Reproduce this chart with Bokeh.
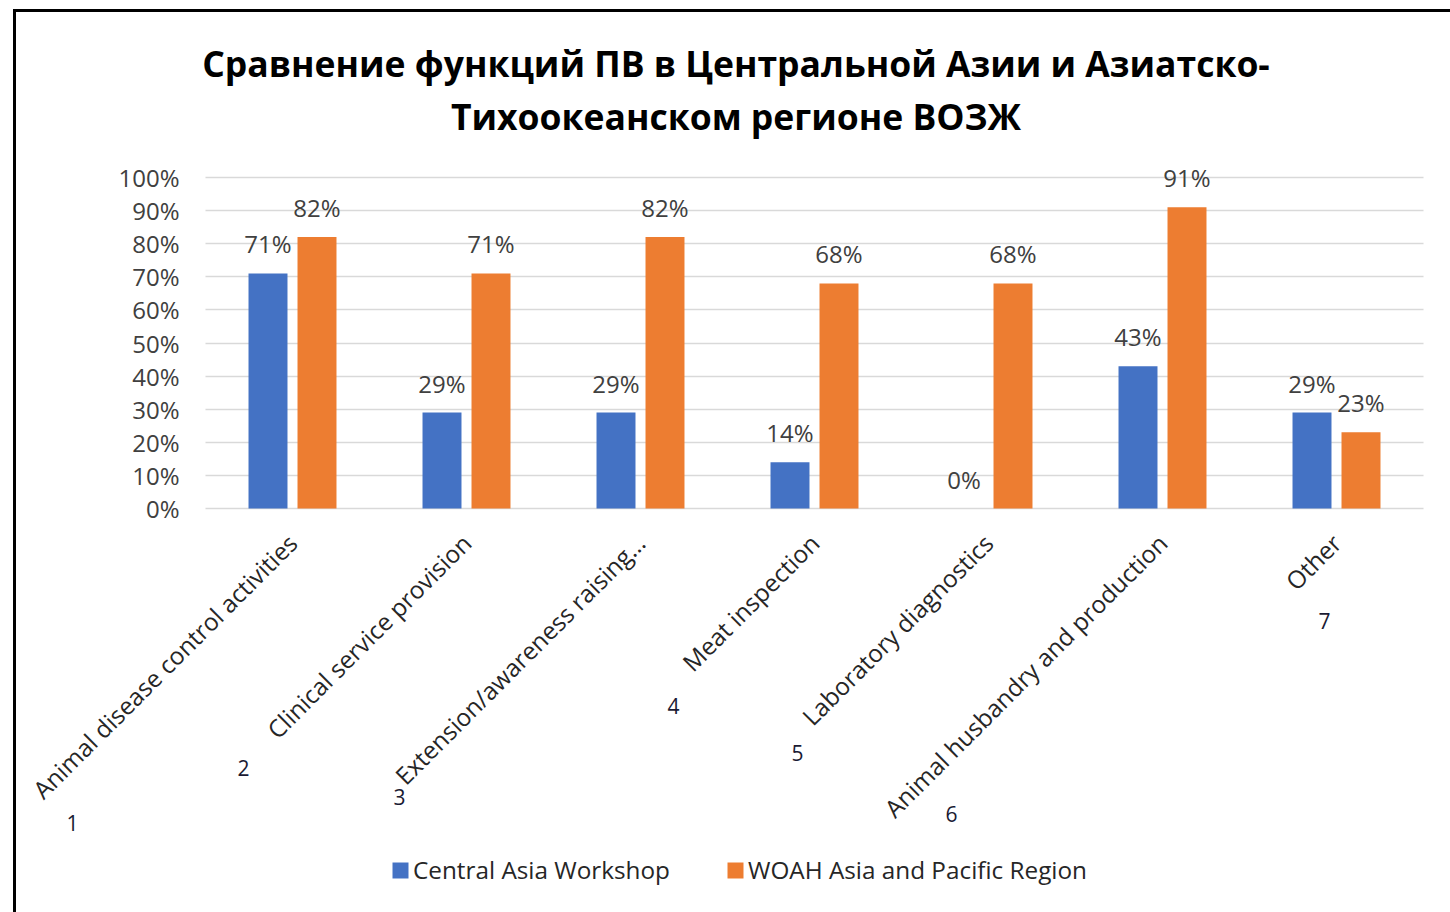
from bokeh.plotting import figure
from bokeh.models import (ColumnDataSource, Range1d, LabelSet, Label, Legend, LegendItem,
                          FixedTicker, NumeralTickFormatter)
from bokeh.transform import dodge
from bokeh.core.properties import value
from bokeh.embed import file_html
from bokeh.resources import INLINE
import math

# ---------------- data ----------------
categories = [
    "Animal disease control activities",
    "Clinical service provision",
    "Extension/awareness raising…",
    "Meat inspection",
    "Laboratory diagnostics",
    "Animal husbandry and production",
    "Other",
]
central_asia = [0.71, 0.29, 0.29, 0.14, 0.00, 0.43, 0.29]
woah_asia_pacific = [0.82, 0.71, 0.82, 0.68, 0.68, 0.91, 0.23]
series_names = ["Central Asia Workshop", "WOAH Asia and Pacific Region"]
category_numbers = ["1", "2", "3", "4", "5", "6", "7"]
y_ticks = [0.0, 0.1, 0.2, 0.3, 0.4, 0.5, 0.6, 0.7, 0.8, 0.9, 1.0]
title_lines = [
    "Сравнение функций ПВ в Центральной Азии и Азиатско-",
    "Тихоокеанском регионе ВОЗЖ",
]

# ---------------- layout / styling ----------------
W_PX, H_PX = 1450, 912
FONT = "Open Sans"
BLUE = "#4472C4"
ORANGE = "#ED7D31"
TEXT = "#404040"
CAT_PX = 174.0          # pixels per category
FIRST_CAT_PX = 292.0    # pixel x of first category centre
ZERO_PX = 508.0         # pixel y of 0 %
UNIT_PX = 331.0         # pixels per 100 %
# pixel positions (from top-left) of the stray numbers under the labels
number_px = [(72, 822), (243, 767), (399, 796), (673, 705),
             (797, 752), (951, 813), (1324, 620)]

idx = list(range(len(categories)))
src = ColumnDataSource(dict(
    idx=idx,
    cat=categories,
    ca=central_asia,
    wo=woah_asia_pacific,
    ca_lbl=[f"{round(v * 100)}%" for v in central_asia],
    wo_lbl=[f"{round(v * 100)}%" for v in woah_asia_pacific],
))

x_range = Range1d(-FIRST_CAT_PX / CAT_PX, (W_PX - FIRST_CAT_PX) / CAT_PX)
y_range = Range1d(-(H_PX - ZERO_PX) / UNIT_PX, ZERO_PX / UNIT_PX)

p = figure(x_range=x_range, y_range=y_range, width=W_PX, height=H_PX, title=None,
           output_backend="svg", toolbar_location=None, min_border=0)
p.border_fill_color = None
p.background_fill_color = None
p.outline_line_color = None
p.styles = {
    "background": "linear-gradient(#000,#000) 13px 9px / 3px calc(100% - 9px) no-repeat, "
                  "linear-gradient(#000,#000) 13px 9px / calc(100% - 13px) 3px no-repeat, white"
}

OFF = 0.1408
BW = 0.224
r1 = p.vbar(x=dodge("idx", -OFF), top="ca", width=BW, source=src,
            fill_color=BLUE, line_color=None)
r2 = p.vbar(x=dodge("idx", OFF), top="wo", width=BW, source=src,
            fill_color=ORANGE, line_color=None)

for off, col, lbl in [(-OFF, "ca", "ca_lbl"), (OFF, "wo", "wo_lbl")]:
    p.add_layout(LabelSet(x=dodge("idx", off), y=col, text=lbl, source=src,
                          text_align="center", text_baseline="alphabetic", y_offset=20,
                          text_font=value(FONT), text_font_size="24px", text_color=TEXT))

# ---- axes (fixed inside the frame) ----
left_edge, right_edge = -0.5, len(categories) - 0.5
p.xgrid.grid_line_color = None
p.ygrid.grid_line_color = "#D9D9D9"
p.ygrid.grid_line_width = 1.5
p.ygrid.cross_bounds = (left_edge, right_edge)

p.yaxis.fixed_location = left_edge
p.yaxis.bounds = (0, 1)
p.yaxis.ticker = FixedTicker(ticks=y_ticks)
p.yaxis.formatter = NumeralTickFormatter(format="0%")
p.yaxis.axis_line_color = None
p.yaxis.major_tick_line_color = None
p.yaxis.minor_tick_line_color = None
p.yaxis.major_tick_out = 0
p.yaxis.major_tick_in = 0
p.yaxis.major_label_standoff = 26
p.yaxis.major_label_text_font = FONT
p.yaxis.major_label_text_font_size = "24px"
p.yaxis.major_label_text_color = TEXT

p.xaxis.fixed_location = 0
p.xaxis.bounds = (left_edge, right_edge)
p.xaxis.ticker = FixedTicker(ticks=idx)
p.xaxis.major_label_overrides = {i: c for i, c in zip(idx, categories)}
p.xaxis.axis_line_color = None
p.xaxis.major_tick_line_color = None
p.xaxis.minor_tick_line_color = None
p.xaxis.major_tick_out = 0
p.xaxis.major_tick_in = 0
p.xaxis.major_label_orientation = math.pi / 4
p.xaxis.major_label_standoff = 30
p.xaxis.major_label_text_font = FONT
p.xaxis.major_label_text_font_size = "24.3px"
p.xaxis.major_label_text_color = "#262626"

# ---- title ----
for txt, py in zip(title_lines, [62, 115]):
    p.add_layout(Label(x=735.5, y=H_PX - py, x_units="screen", y_units="screen", text=txt,
                       text_align="center", text_baseline="middle", text_font=FONT,
                       text_font_size="35.5px", text_font_style="bold", text_color="black"))

# ---- stray numbers ----
for n, (px, py) in zip(category_numbers, number_px):
    p.add_layout(Label(x=px, y=H_PX - py, x_units="screen", y_units="screen", text=n,
                       text_align="center", text_baseline="middle", text_font=FONT,
                       text_font_size="21px", text_color="#1a1a33"))

# ---- legend ----
legend = Legend(items=[LegendItem(label=series_names[0], renderers=[r1]),
                       LegendItem(label=series_names[1], renderers=[r2])],
                location=(390, H_PX - 886), orientation="horizontal", glyph_width=20,
                glyph_height=20, label_standoff=3, spacing=55, padding=0, margin=0,
                border_line_color=None, background_fill_alpha=0,
                label_text_font=FONT, label_text_font_size="24.3px",
                label_text_color="#262626")
p.add_layout(legend)

open("out.html", "w").write(file_html(p, INLINE))
